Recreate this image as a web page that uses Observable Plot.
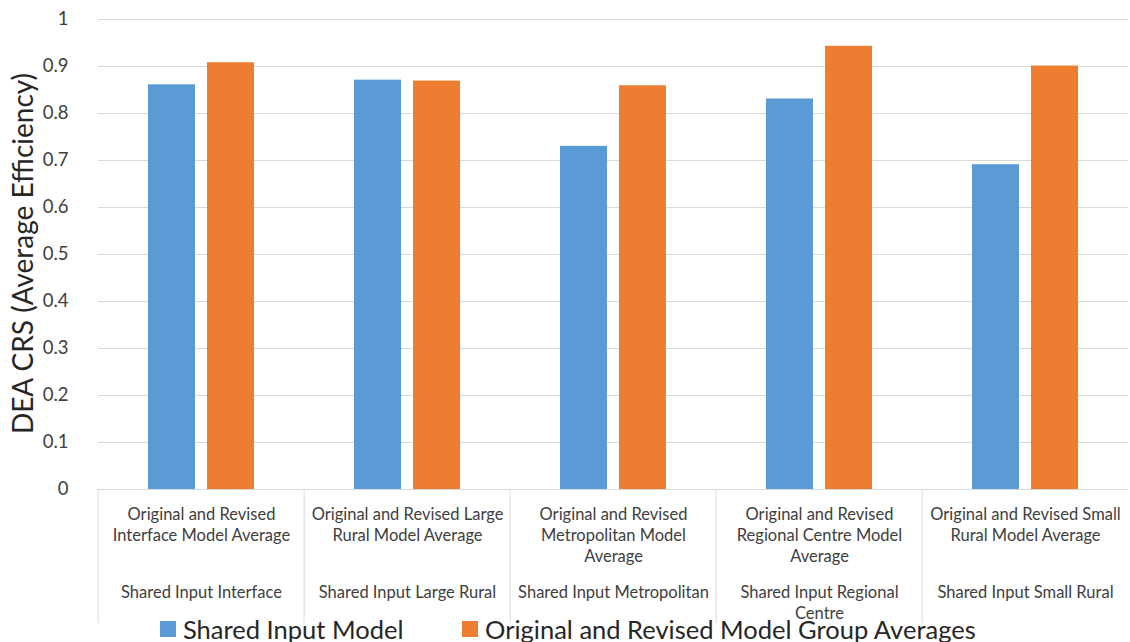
<!DOCTYPE html>
<html>
<head>
<meta charset="utf-8">
<script src="https://cdn.jsdelivr.net/npm/d3@7"></script>
<script src="https://cdn.jsdelivr.net/npm/@observablehq/plot@0.6"></script>
<style>
  html, body { margin: 0; padding: 0; background: white; }
  #chart { position: relative; width: 1130px; }
  #legend { position: relative; height: 26px; font-family: Lato, sans-serif; font-size: 25.5px; color: #262626; }
  .item { position: absolute; top: 0; display: flex; align-items: center; height: 26px; white-space: nowrap; }
  .sw { width: 16px; height: 16px; margin-right: 7px; }
</style>
</head>
<body>
<div id="chart"></div>
<script>
const categories = ["Interface", "Large Rural", "Metropolitan", "Regional Centre", "Small Rural"];
const topLabels = [
  "Original and Revised\nInterface Model Average",
  "Original and Revised Large\nRural Model Average",
  "Original and Revised\nMetropolitan Model\nAverage",
  "Original and Revised\nRegional Centre Model\nAverage",
  "Original and Revised Small\nRural Model Average"
];
const bottomLabels = [
  "Shared Input Interface",
  "Shared Input Large Rural",
  "Shared Input Metropolitan",
  "Shared Input Regional\nCentre",
  "Shared Input Small Rural"
];
const series = ["Shared Input Model", "Original and Revised Model Group Averages"];
const sharedInputValues = [0.861, 0.871, 0.730, 0.831, 0.691];
const groupAverageValues = [0.908, 0.869, 0.859, 0.943, 0.901];
const yTicks = [0, 0.1, 0.2, 0.3, 0.4, 0.5, 0.6, 0.7, 0.8, 0.9, 1];
const colors = ["#5B9BD5", "#ED7D31"];
const yLabel = "DEA CRS (Average Efficiency)";

const rows = [];
categories.forEach((c, i) => {
  rows.push({cat: c, series: series[0], value: sharedInputValues[i]});
  rows.push({cat: c, series: series[1], value: groupAverageValues[i]});
});
const labelRows = categories.map((c, i) => ({cat: c, top: topLabels[i], bottom: bottomLabels[i]}));

const W = 1130, H = 616, mL = 96, mR = 0;
const bandW = (W - mL - mR) / categories.length;

const chart = Plot.plot({
  width: W, height: H,
  marginLeft: mL, marginRight: mR, marginTop: 19, marginBottom: 127,
  style: {fontFamily: "Lato, sans-serif", overflow: "visible", background: "white"},
  fx: {domain: categories, paddingInner: 0, paddingOuter: 0, axis: null},
  x: {domain: series, paddingInner: 0.2, paddingOuter: 0.84, axis: null},
  y: {domain: [0, 1], axis: null},
  color: {domain: series, range: colors},
  marks: [
    Plot.gridY(yTicks, {stroke: "#d9d9d9", strokeOpacity: 1, strokeWidth: 1}),
    Plot.ruleX(categories, {fx: d => d, x: null, dx: -bandW / 2, insetTop: 470, insetBottom: -134, stroke: "#d9d9d9", strokeWidth: 1}),
    Plot.barY(rows, {fx: "cat", x: "series", y: "value", fill: "series", inset: 0}),
    Plot.axisY(yTicks, {tickSize: 0, tickPadding: 30, fontSize: 18.5, fill: "#404040", tickFormat: d3.format("~g"), label: null}),
    Plot.text(labelRows, {fx: "cat", text: "top", frameAnchor: "bottom", lineAnchor: "top", dy: 16, fontSize: 16.5, lineHeight: 1.27, fill: "#404040"}),
    Plot.text(labelRows, {fx: "cat", text: "bottom", frameAnchor: "bottom", lineAnchor: "top", dy: 94, fontSize: 16.5, lineHeight: 1.27, fill: "#404040"}),
    Plot.text([yLabel], {fx: () => categories[0], frameAnchor: "left", textAnchor: "middle", rotate: -90, dx: -74, dy: -1, fontSize: 28, fill: "#262626"})
  ]
});
document.getElementById("chart").appendChild(chart);

const legend = document.createElement("div");
legend.id = "legend";
const lefts = [160, 462];
series.forEach((s, i) => {
  const item = document.createElement("div");
  item.className = "item";
  item.style.left = lefts[i] + "px";
  const sw = document.createElement("span");
  sw.className = "sw";
  sw.style.background = colors[i];
  const t = document.createElement("span");
  t.textContent = s;
  item.appendChild(sw);
  item.appendChild(t);
  legend.appendChild(item);
});
document.getElementById("chart").appendChild(legend);
</script>
</body>
</html>
